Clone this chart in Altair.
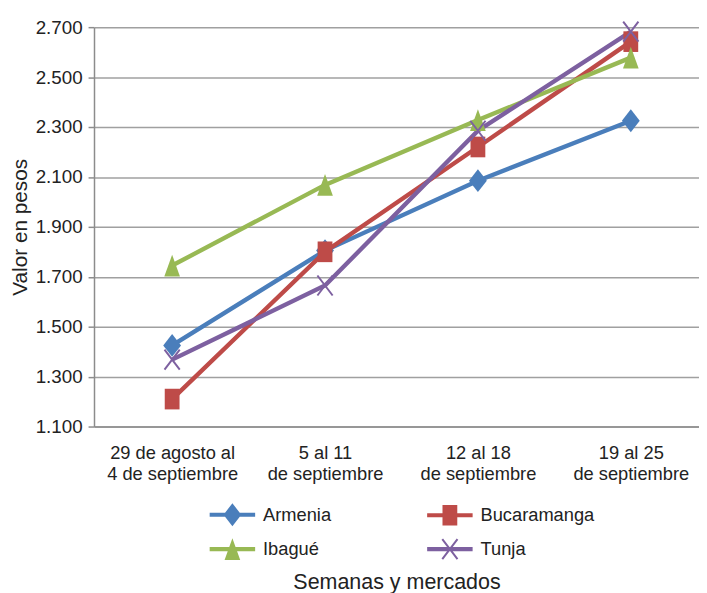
import altair as alt
import pandas as pd

weeks = [
    "29 de agosto al\n4 de septiembre",
    "5 al 11\nde septiembre",
    "12 al 18\nde septiembre",
    "19 al 25\nde septiembre",
]
series = ["Armenia", "Bucaramanga", "Ibagué", "Tunja"]
armenia = [1425, 1805, 2085, 2325]
bucaramanga = [1210, 1800, 2220, 2642]
ibague = [1745, 2068, 2328, 2578]
tunja = [1368, 1665, 2285, 2682]
y_ticks = [1100, 1300, 1500, 1700, 1900, 2100, 2300, 2500, 2700]

colors = ["#4A7EBB", "#BE4B48", "#98B954", "#7D60A0"]

values = {"Armenia": armenia, "Bucaramanga": bucaramanga, "Ibagué": ibague, "Tunja": tunja}
rows = []
for s in series:
    for i, (w, v) in enumerate(zip(weeks, values[s])):
        rows.append({"idx": i, "semana": w, "mercado": s, "valor": v})
df = pd.DataFrame(rows)


def poly(pts):
    return "M" + " L".join(f"{x:.3f},{y:.3f}" for x, y in pts) + " Z"


def scale_pts(pts, k):
    return [(x * k, y * k) for x, y in pts]


# marker shapes in unit box (r = 11px for size 484)
diamond = [(0, -1.05), (0.82, 0), (0, 1.05), (-0.82, 0)]
square = [(-0.68, -0.95), (0.68, -0.95), (0.68, 0.95), (-0.68, 0.95)]
triangle = [(0, -1.0), (0.72, 1.0), (-0.72, 1.0)]
xband1 = [(-0.772, -0.866), (0.628, 0.974), (0.772, 0.866), (-0.628, -0.974)]
xband2 = [(0.628, -0.974), (-0.772, 0.866), (-0.628, 0.974), (0.772, -0.866)]

marker_paths = [
    poly(diamond),
    poly(square),
    poly(triangle),
    poly(xband1) + " " + poly(xband2),
]

# legend symbols: line + marker, symbol box 46px (r = 23)
k = 11 / 23
line = [(-1, -0.09), (1, -0.09), (1, 0.09), (-1, 0.09)]
leg_paths = [
    poly(line) + " " + poly(scale_pts(diamond, k)),
    poly(line) + " " + poly(scale_pts(square, k)),
    poly(line) + " " + poly(scale_pts(triangle, k)),
    poly(line) + " " + poly(scale_pts(list(reversed(xband1)), k)) + " "
    + poly(scale_pts(list(reversed(xband2)), k)),
]
# legend fills its columns top-down: order entries so rows read
# Armenia | Bucaramanga, Ibagué | Tunja
leg_order = [0, 2, 1, 3]
leg_domain = [series[i] for i in leg_order]
leg_colors = [colors[i] for i in leg_order]
leg_shapes = [leg_paths[i] for i in leg_order]

FONT = "Liberation Sans"
TXT = "#222222"

weeks_js = "[" + ", ".join("'" + w.replace("\n", "\\n") + "'" for w in weeks) + "]"

x_enc = alt.X(
    "idx:Q",
    scale=alt.Scale(domain=[-0.511, 3.446], nice=False, zero=False),
    axis=alt.Axis(
        title="Semanas y mercados",
        values=list(range(len(weeks))),
        labelExpr=f"split({weeks_js}[datum.value], '\\n')",
        labelAngle=0,
        labelLineHeight=22,
        labelFontSize=18.5,
        labelPadding=17,
        labelFlush=False,
        labelOverlap=False,
        ticks=False,
        tickSize=0,
        titlePadding=89,
        titleFontSize=21.7,
        titleFontWeight="normal",
        grid=False,
        domainColor="#8c8c8c",
        domainWidth=1.5,
    ),
)
y_enc = alt.Y(
    "valor:Q",
    scale=alt.Scale(domain=[1100, 2700], nice=False, zero=False),
    axis=alt.Axis(
        title="Valor en pesos",
        values=y_ticks,
        labelExpr="replace(format(datum.value, ','), ',', '.')",
        labelFontSize=19,
        labelPadding=6,
        tickSize=6,
        tickColor="#8c8c8c",
        tickWidth=1.5,
        titleFontSize=21,
        titleFontWeight="normal",
        titlePadding=5,
        gridColor="#a0a0a0",
        gridWidth=1.5,
        domainColor="#8c8c8c",
        domainWidth=1.5,
    ),
)

color_plain = alt.Color(
    "mercado:N", scale=alt.Scale(domain=series, range=colors), legend=None
)

legend_props = dict(
    title=None,
    orient="none",
    legendX=117,
    legendY=470,
    columns=2,
    columnPadding=97,
    rowPadding=-13,
    labelFontSize=18.5,
    labelOffset=8,
    labelFont=FONT,
    labelColor=TXT,
    symbolSize=2116,
    symbolOpacity=1,
    symbolStrokeWidth=0,
)

base = alt.Chart(df)
lines = base.mark_line(strokeWidth=4.4).encode(
    x=x_enc, y=y_enc, color=color_plain, detail="mercado:N"
)
points = base.mark_point(filled=True, size=484, opacity=1).encode(
    x=x_enc,
    y=y_enc,
    color=color_plain,
    shape=alt.Shape(
        "mercado:N", scale=alt.Scale(domain=series, range=marker_paths), legend=None
    ),
)
legend_layer = (
    base.transform_filter("false")
    .mark_point(filled=True, opacity=1)
    .encode(
        x=x_enc,
        y=y_enc,
        color=alt.Color(
            "mercado:N",
            scale=alt.Scale(domain=leg_domain, range=leg_colors),
            legend=alt.Legend(**legend_props),
        ),
        shape=alt.Shape(
            "mercado:N",
            scale=alt.Scale(domain=leg_domain, range=leg_shapes),
            legend=alt.Legend(**legend_props),
        ),
    )
)

chart = (
    alt.layer(lines, points, legend_layer)
    .resolve_scale(color="independent", shape="independent")
    .properties(
        width=612,
        height=404,
        autosize="none",
        padding={"left": 87, "top": 16, "right": 0, "bottom": 165},
    )
    .configure_view(stroke=None)
    .configure_axis(
        labelFont=FONT,
        titleFont=FONT,
        labelColor=TXT,
        titleColor=TXT,
    )
    .configure_legend(labelFont=FONT, labelColor=TXT)
)

chart.save("out.html", embed_options={"renderer": "svg", "actions": False})
